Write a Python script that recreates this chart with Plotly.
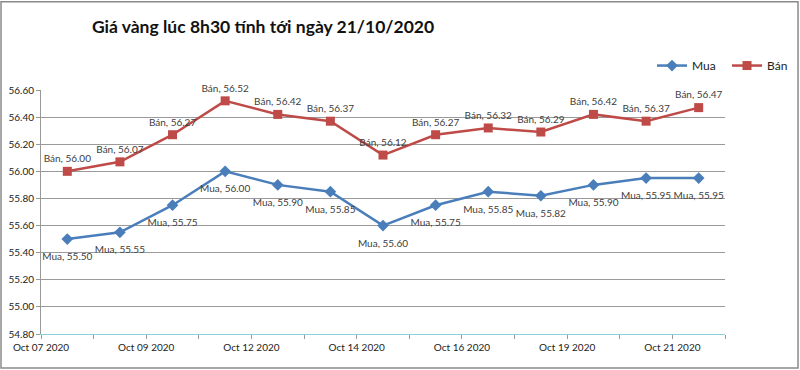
import plotly.graph_objects as go

dates = ["Oct 07 2020", "Oct 08 2020", "Oct 09 2020", "Oct 10 2020", "Oct 12 2020",
         "Oct 13 2020", "Oct 14 2020", "Oct 15 2020", "Oct 16 2020", "Oct 17 2020",
         "Oct 19 2020", "Oct 20 2020", "Oct 21 2020"]
mua = [55.50, 55.55, 55.75, 56.00, 55.90, 55.85, 55.60, 55.75, 55.85, 55.82, 55.90, 55.95, 55.95]
ban = [56.00, 56.07, 56.27, 56.52, 56.42, 56.37, 56.12, 56.27, 56.32, 56.29, 56.42, 56.37, 56.47]
y_ticks = [54.8, 55.0, 55.2, 55.4, 55.6, 55.8, 56.0, 56.2, 56.4, 56.6]

idx = list(range(len(dates)))
FONT = "Lato"
BLUE = "#4A7EBB"
RED = "#BE4B48"
LABEL_FONT = dict(family=FONT, size=10, color="#404040")

fig = go.Figure()
fig.add_trace(go.Scatter(
    x=idx, y=mua, name="Mua", mode="lines+markers",
    line=dict(color=BLUE, width=2.5),
    marker=dict(symbol="diamond", size=9, color=BLUE),
    customdata=dates, hovertemplate="%{customdata}: %{y:.2f}<extra>Mua</extra>",
))
# Mua data labels (placed a bit further below the points, as in the reference)
fig.add_trace(go.Scatter(
    x=idx, y=mua, name="Mua", mode="markers+text", showlegend=False,
    marker=dict(size=20, color="rgba(0,0,0,0)"),
    text=[f"Mua, {v:.2f}" for v in mua], textposition="bottom center",
    textfont=LABEL_FONT, cliponaxis=False, hoverinfo="skip",
))
fig.add_trace(go.Scatter(
    x=idx, y=ban, name="Bán", mode="lines+markers+text",
    line=dict(color=RED, width=2.5),
    marker=dict(symbol="square", size=9, color=RED),
    text=[f"Bán, {v:.2f}" for v in ban], textposition="top center",
    textfont=LABEL_FONT, cliponaxis=False,
    customdata=dates, hovertemplate="%{customdata}: %{y:.2f}<extra>Bán</extra>",
))

tickvals = [i - 0.5 for i in range(len(dates) + 1)]
ticktext = [dates[i] if (i < len(dates) and i % 2 == 0) else "" for i in range(len(dates) + 1)]

L, R, T, B = 41, 725, 89.5, 334
W, H = 800, 370
pw, ph = R - L, B - T

def px(x):
    return (x - L) / pw

def py(y):
    return (B - y) / ph

fig.update_layout(
    width=W, height=H,
    margin=dict(l=L, r=W - R, t=T, b=H - B, autoexpand=False),
    paper_bgcolor="white", plot_bgcolor="white",
    font=dict(family=FONT, size=10, color="#222"),
    title=dict(text="<b>Giá vàng lúc 8h30 tính tới ngày 21/10/2020</b>",
               x=263 / W, xanchor="center", y=1 - 27 / H, yanchor="middle",
               font=dict(family=FONT, size=17.5, color="#111")),
    showlegend=True,
    legend=dict(orientation="h", x=px(652), xanchor="left", y=py(65), yanchor="middle",
                font=dict(family=FONT, size=12, color="#222"),
                bgcolor="rgba(0,0,0,0)", entrywidth=30, entrywidthmode="pixels",
                tracegroupgap=0),
    xaxis=dict(range=[-0.5, len(dates) - 0.5], tickmode="array",
               tickvals=tickvals, ticktext=ticktext, showgrid=False, zeroline=False,
               showline=True, linecolor="#8FD0D8", linewidth=1,
               ticks="outside", ticklen=4, tickcolor="#999", automargin=False,
               tickfont=dict(family=FONT, size=10, color="#222")),
    yaxis=dict(range=[54.8, 56.6], tickmode="array", tickvals=y_ticks,
               ticktext=[f"{v:.2f}" for v in y_ticks],
               showgrid=True, gridcolor="#9A9A9A", gridwidth=1, zeroline=False,
               showline=True, linecolor="#999", linewidth=1,
               ticks="outside", ticklen=4, tickcolor="#999", automargin=False,
               tickfont=dict(family=FONT, size=10, color="#222")),
    shapes=[dict(type="rect", xref="paper", yref="paper",
                 x0=px(1), x1=px(798), y0=py(368), y1=py(1),
                 line=dict(color="#8A8A8A", width=1.5), layer="above")],
)

fig.write_html("out.html", config={"displayModeBar": False},
               post_script="document.body.style.margin='0';")
